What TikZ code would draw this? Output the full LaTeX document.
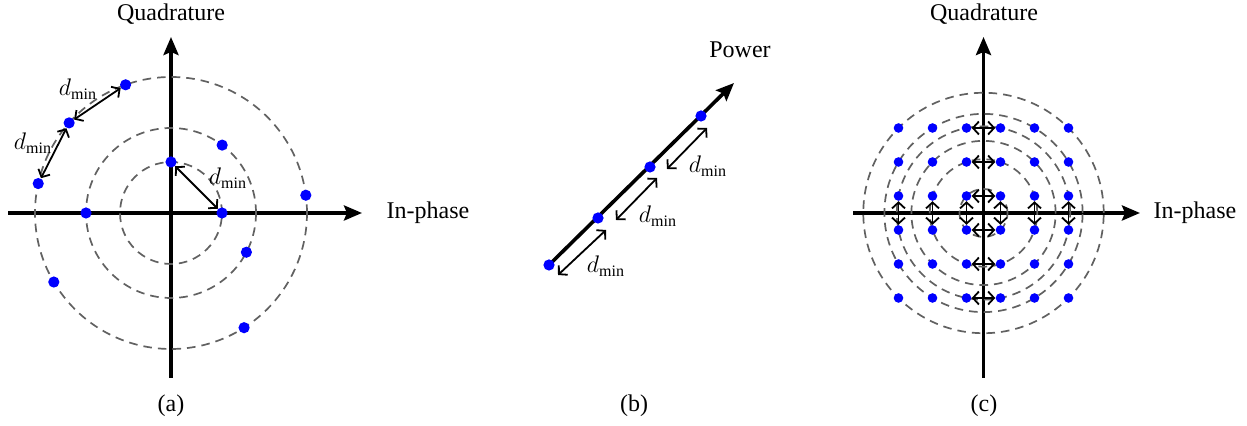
\documentclass[tikz,border=0pt]{standalone}
\usepackage{fontspec}
\setmainfont{Liberation Serif}
\usetikzlibrary{arrows.meta,backgrounds}
\begin{document}
\begin{tikzpicture}[x=0.5pt,y=0.5pt,
  axis/.style={line width=1.8pt,-{Stealth[length=9pt,width=7.5pt,inset=1.5pt]}},
  ring/.style={draw=black!62, line width=0.85pt, dash pattern=on 4.3pt off 3pt},
  dot/.style={circle, fill=blue, inner sep=0pt, minimum size=5.6pt},
  sdot/.style={dot, minimum size=4.8pt},
  dist/.style={line width=0.9pt, {Straight Barb[length=3pt,width=6.5pt]}-{Straight Barb[length=3pt,width=6.5pt]}},
  lbl/.style={font=\fontsize{12}{14}\selectfont, inner sep=0pt}
]
\useasboundingbox (0,0) rectangle (1247,426);

% ---------- panel (a)
\coordinate (oa) at (171,213);
\coordinate (ab) at (171,48);
\coordinate (at) at (171,389);
\coordinate (al) at (8,213);
\coordinate (ar) at (362,213);
\draw[axis] (ab) -- (at);
\draw[axis] (al) -- (ar);
\foreach \r in {51,85,136} \draw[ring] (oa) circle[radius=\r];
\node[dot] (a1) at ([shift={(90:51)}]oa) {};
\node[dot] (a2) at ([shift={(0:51)}]oa) {};
\node[dot] (a3) at ([shift={(180:85)}]oa) {};
\node[dot] (a4) at ([shift={(53:85)}]oa) {};
\node[dot] (a5) at ([shift={(-27.5:85)}]oa) {};
\node[dot] (a6) at ([shift={(109.5:136)}]oa) {};
\node[dot] (a7) at ([shift={(138.5:136)}]oa) {};
\node[dot] (a8) at ([shift={(167.5:136)}]oa) {};
\node[dot] (a9) at ([shift={(7.5:136)}]oa) {};
\node[dot] (a10) at ([shift={(210.5:136)}]oa) {};
\node[dot] (a11) at ([shift={(-57.5:136)}]oa) {};
\draw[dist] (a6) -- (a7);
\draw[dist] (a7) -- (a8);
\draw[dist] (a1) -- (a2);
\node[lbl] (la1) at (78,337) {$d_{\min}$};
\node[lbl] (la2) at (33,283) {$d_{\min}$};
\node[lbl] (la3) at (228,248) {$d_{\min}$};
\node[lbl] (qa) at (171,412) {Quadrature};
\node[lbl] (ia) at (428,213) {In-phase};
\node[lbl] (capa) at (171,20) {(a)};

% ---------- panel (b)
\node[dot] (b1) at (549,161) {};
\node[dot] (b2) at (598,208) {};
\node[dot] (b3) at (650,259) {};
\node[dot] (b4) at (701,310) {};
\coordinate (bt) at (734,343);
\begin{pgfonlayer}{background}
\draw[axis] (b1.center) -- (bt);
\end{pgfonlayer}
\draw[dist] ([shift={(9,-10)}]b1.center) -- ([shift={(8,-12)}]b2.center);
\draw[dist] ([shift={(18,-2)}]b2.center) -- ([shift={(7,-11)}]b3.center);
\draw[dist] ([shift={(17,-2)}]b3.center) -- ([shift={(6,-12)}]b4.center);
\node[lbl] (lb1) at (606,160) {$d_{\min}$};
\node[lbl] (lb2) at (658,210) {$d_{\min}$};
\node[lbl] (lb3) at (708,260) {$d_{\min}$};
\node[lbl] (pw) at (740,376) {Power};
\node[lbl] (capb) at (634,20) {(b)};

% ---------- panel (c)
\coordinate (oc) at (983.5,213);
\coordinate (cb) at (983.5,48);
\coordinate (ct) at (983.5,389);
\coordinate (cl) at (853,213);
\coordinate (cr) at (1140,213);
\draw[axis] (cb) -- (ct);
\draw[axis] (cl) -- (cr);
\foreach \r in {24.04,53.76,72.12,86.68,99.13,120.21} \draw[ring] (oc) circle[radius=\r];
\foreach \i in {0,...,5} {
  \foreach \j in {0,...,5} {
    \node[sdot] (c\i\j) at ([shift={({(\i-2.5)*34},{(\j-2.5)*34})}]oc) {};
  }
}
\foreach \j in {0,...,5} \draw[dist] (c2\j) -- (c3\j);
\foreach \i in {0,...,5} \draw[dist] (c\i2) -- (c\i3);
\node[lbl] (qc) at (984,412) {Quadrature};
\node[lbl] (ic) at (1195,213) {In-phase};
\node[lbl] (capc) at (984,20) {(c)};
\end{tikzpicture}
\end{document}
